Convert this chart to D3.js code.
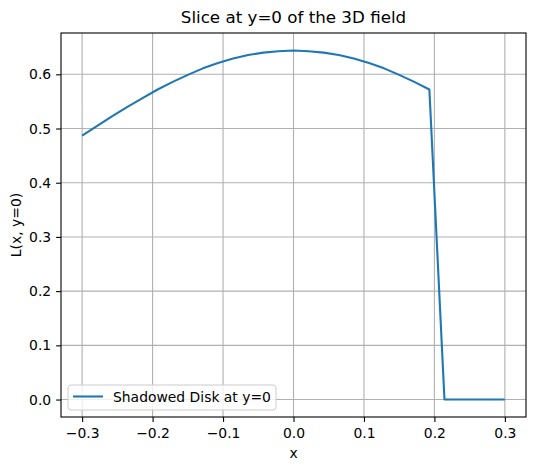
<!DOCTYPE html>
<html>
<head>
    <meta charset="utf-8">
    <title>slice</title>
    <script src="https://d3js.org/d3.v7.min.js"></script>
    <style>
        body { margin: 0; background: #fff; }
        text { font-family: "DejaVu Sans", sans-serif; }
    </style>
</head>
<body>
    <svg width="536" height="470" id="mainsvg"></svg>
    <script>
        // 29 samples on [-0.3, 0.3]
        const xs = d3.range(29).map(k => -0.3 + k * 0.6 / 28);
        const values = [0.487, 0.505, 0.523, 0.540, 0.556, 0.572, 0.586, 0.599, 0.611, 0.621,
                        0.629, 0.6356, 0.640, 0.6425, 0.644, 0.6425, 0.640, 0.6356, 0.629, 0.621,
                        0.611, 0.599, 0.586, 0.572, 0, 0, 0, 0, 0];
        const xTicks = [-0.3, -0.2, -0.1, 0.0, 0.1, 0.2, 0.3];
        const yTicks = [0.0, 0.1, 0.2, 0.3, 0.4, 0.5, 0.6];
        const seriesName = 'Shadowed Disk at y=0';

        const svg = d3.select('#mainsvg');
        const margin = { top: 33, right: 10, bottom: 53, left: 61 };
        const innerWidth = 536 - margin.left - margin.right;
        const innerHeight = 470 - margin.top - margin.bottom;
        const g = svg.append('g').attr('transform', `translate(${margin.left}, ${margin.top})`);

        const xScale = d3.scaleLinear().domain([-0.33, 0.33]).range([0, innerWidth]);
        const yMax = d3.max(values);
        const yScale = d3.scaleLinear().domain([-0.05 * yMax, 1.05 * yMax]).range([innerHeight, 0]);

        const fmt = d => d3.format('.1f')(d).replace('-', '\u2212');

        // grid
        g.append('g').selectAll('line').data(xTicks).join('line')
            .attr('x1', d => xScale(d)).attr('x2', d => xScale(d))
            .attr('y1', 0).attr('y2', innerHeight)
            .attr('stroke', '#b0b0b0').attr('stroke-width', 1.1);
        g.append('g').selectAll('line').data(yTicks).join('line')
            .attr('y1', d => yScale(d)).attr('y2', d => yScale(d))
            .attr('x1', 0).attr('x2', innerWidth)
            .attr('stroke', '#b0b0b0').attr('stroke-width', 1.1);

        // line
        const line = d3.line().x((d, i) => xScale(xs[i])).y(d => yScale(d));
        g.append('path').datum(values)
            .attr('d', line)
            .attr('fill', 'none')
            .attr('stroke', '#1f77b4')
            .attr('stroke-width', 2.1)
            .attr('stroke-linejoin', 'round');

        // axes
        const xAxis = d3.axisBottom(xScale).tickValues(xTicks).tickFormat(fmt).tickSize(4.9).tickPadding(4.9);
        const yAxis = d3.axisLeft(yScale).tickValues(yTicks).tickFormat(fmt).tickSize(4.9).tickPadding(4.9);
        const xg = g.append('g').attr('transform', `translate(0, ${innerHeight})`).call(xAxis);
        const yg = g.append('g').call(yAxis);
        [xg, yg].forEach(a => {
            a.select('.domain').remove();
            a.selectAll('.tick line').attr('stroke', '#000').attr('stroke-width', 1.1);
            a.selectAll('.tick text').attr('font-size', '13.9px').attr('fill', '#000')
                .attr('dy', null)
                .style('font-family', '"DejaVu Sans", sans-serif');
        });
        xg.selectAll('.tick text').attr('y', 20.5);
        yg.selectAll('.tick text').attr('y', 4.5);

        g.append('rect')
            .attr('width', innerWidth).attr('height', innerHeight)
            .attr('fill', 'none').attr('stroke', '#000').attr('stroke-width', 1.1);

        // labels
        svg.append('text').text('Slice at y=0 of the 3D field')
            .attr('x', margin.left + innerWidth / 2).attr('y', 23)
            .attr('text-anchor', 'middle').attr('font-size', '16.7px');
        svg.append('text').text('x')
            .attr('x', margin.left + innerWidth / 2).attr('y', 458)
            .attr('text-anchor', 'middle').attr('font-size', '13.9px');
        svg.append('text').text('L(x, y=0)')
            .attr('transform', `translate(21, ${margin.top + innerHeight / 2}) rotate(-90)`)
            .attr('text-anchor', 'middle').attr('font-size', '13.9px');

        // legend
        const lg = g.append('g').attr('transform', `translate(7, ${innerHeight - 32})`);
        lg.append('rect')
            .attr('width', 208).attr('height', 25).attr('rx', 3)
            .attr('fill', '#fff').attr('fill-opacity', 0.8)
            .attr('stroke', '#cccccc').attr('stroke-width', 1);
        lg.append('line')
            .attr('x1', 5).attr('x2', 35).attr('y1', 11.5).attr('y2', 11.5)
            .attr('stroke', '#1f77b4').attr('stroke-width', 2.1);
        lg.append('text').text(seriesName)
            .attr('x', 45).attr('y', 16.5).attr('font-size', '13.9px');
    </script>
</body>
</html>
